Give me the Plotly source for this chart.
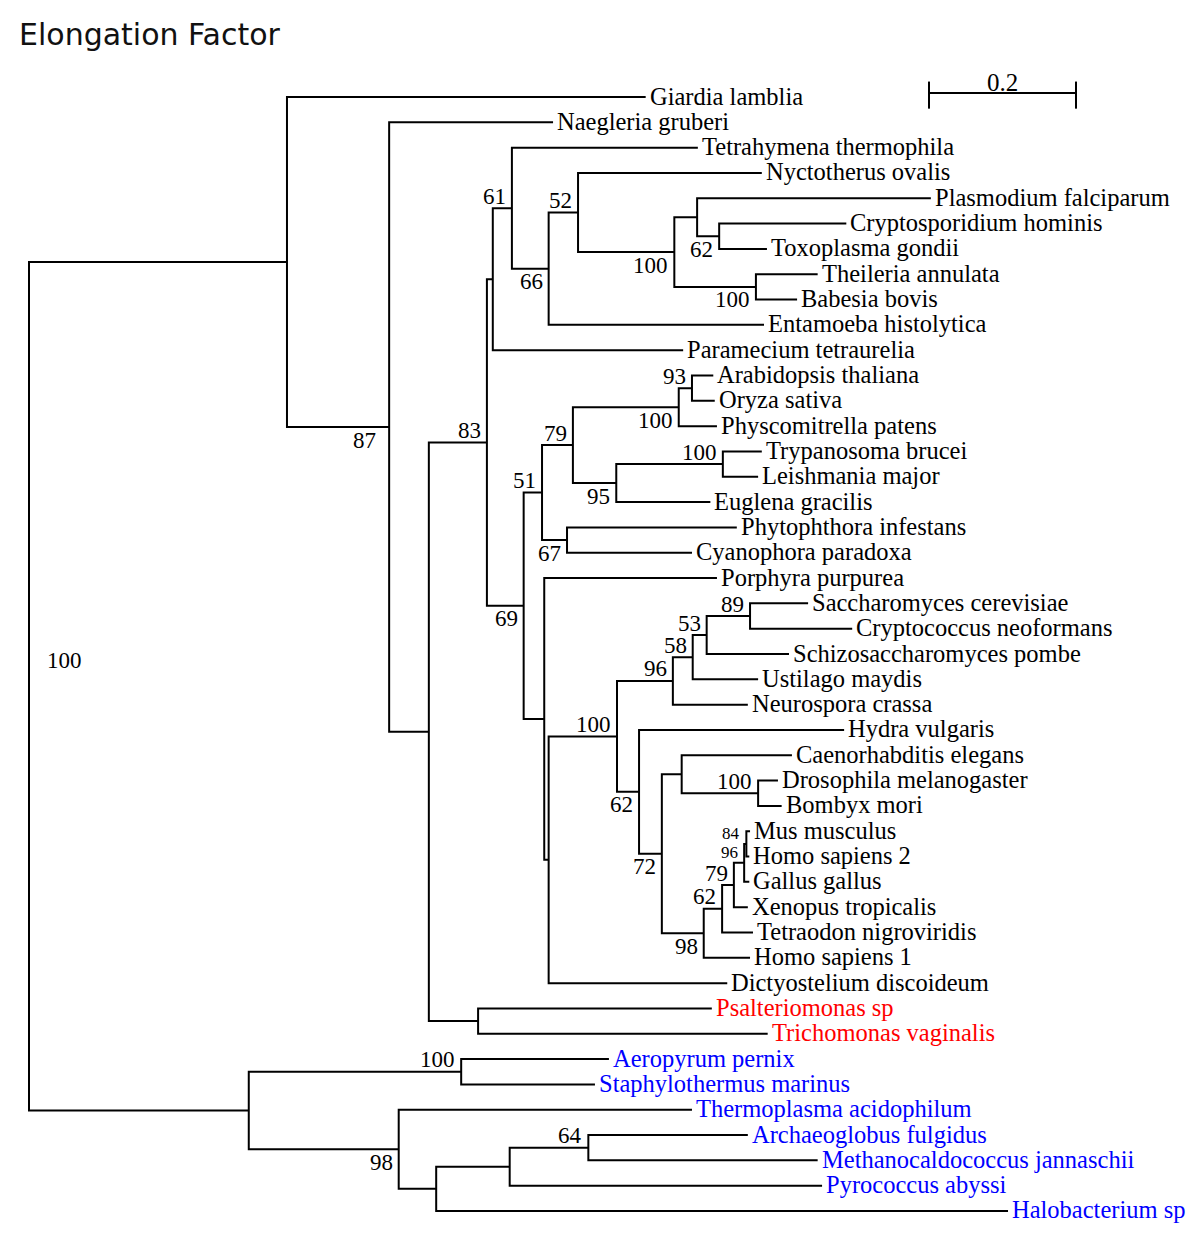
import plotly.graph_objects as go

# ---------------- data ----------------
leaf_names = [
    "Giardia lamblia", "Naegleria gruberi", "Tetrahymena thermophila", "Nyctotherus ovalis",
    "Plasmodium falciparum", "Cryptosporidium hominis", "Toxoplasma gondii", "Theileria annulata",
    "Babesia bovis", "Entamoeba histolytica", "Paramecium tetraurelia", "Arabidopsis thaliana",
    "Oryza sativa", "Physcomitrella patens", "Trypanosoma brucei", "Leishmania major",
    "Euglena gracilis", "Phytophthora infestans", "Cyanophora paradoxa", "Porphyra purpurea",
    "Saccharomyces cerevisiae", "Cryptococcus neoformans", "Schizosaccharomyces pombe",
    "Ustilago maydis", "Neurospora crassa", "Hydra vulgaris", "Caenorhabditis elegans",
    "Drosophila melanogaster", "Bombyx mori", "Mus musculus", "Homo sapiens 2", "Gallus gallus",
    "Xenopus tropicalis", "Tetraodon nigroviridis", "Homo sapiens 1", "Dictyostelium discoideum",
    "Psalteriomonas sp", "Trichomonas vaginalis", "Aeropyrum pernix", "Staphylothermus marinus",
    "Thermoplasma acidophilum", "Archaeoglobus fulgidus", "Methanocaldococcus jannaschii",
    "Pyrococcus abyssi", "Halobacterium sp",
]
# distance from root (substitutions per site)
leaf_depth = [
    0.839, 0.713, 0.910, 0.997, 1.227, 1.112, 1.004, 1.073, 1.045, 1.000,
    0.890, 0.931, 0.933, 0.936, 0.997, 0.992, 0.927, 0.963, 0.902, 0.936,
    1.060, 1.120, 1.034, 0.992, 0.978, 1.109, 1.038, 1.019, 1.024, 0.981,
    0.980, 0.980, 0.978, 0.985, 0.981, 0.950, 0.929, 1.005, 0.789, 0.770,
    0.902, 0.978, 1.073, 1.079, 1.332,
]
leaf_group = ["eukaryote"] * 36 + ["parabasalid"] * 2 + ["archaea"] * 7

node_ids = ["root", "A", "B", "C", "D", "E", "F", "G", "H", "I", "J", "K", "L",
            "N69", "N51", "N79a", "Npl", "N93", "N95", "Ntr", "N67", "Npo", "Ndi",
            "N100f", "N96f", "N58", "N53", "N89", "N62m", "N72", "Nce", "Ndr",
            "N98v", "N62v", "N79v", "N96v", "N84v", "Nps",
            "Nar", "Nae", "N98a", "Nha", "Npy", "N64"]
node_depth = [0.000, 0.351, 0.490, 0.544, 0.623, 0.631, 0.657, 0.707, 0.747, 0.878, 0.909, 0.939, 0.989,
              0.673, 0.698, 0.740, 0.884, 0.902, 0.799, 0.944, 0.732, 0.701, 0.707,
              0.800, 0.876, 0.903, 0.922, 0.981, 0.830, 0.861, 0.888, 0.992,
              0.918, 0.943, 0.959, 0.973, 0.976, 0.611,
              0.299, 0.588, 0.503, 0.554, 0.654, 0.761]
node_children = [
    ("A", "Nar"), ("Giardia lamblia", "B"), ("Naegleria gruberi", "C"), ("D", "Nps"),
    ("E", "N69"), ("F", "Paramecium tetraurelia"), ("Tetrahymena thermophila", "G"),
    ("H", "Entamoeba histolytica"), ("Nyctotherus ovalis", "I"), ("J", "L"),
    ("Plasmodium falciparum", "K"), ("Cryptosporidium hominis", "Toxoplasma gondii"),
    ("Theileria annulata", "Babesia bovis"),
    ("N51", "Npo"), ("N79a", "N67"), ("Npl", "N95"), ("N93", "Physcomitrella patens"),
    ("Arabidopsis thaliana", "Oryza sativa"), ("Ntr", "Euglena gracilis"),
    ("Trypanosoma brucei", "Leishmania major"), ("Phytophthora infestans", "Cyanophora paradoxa"),
    ("Porphyra purpurea", "Ndi"), ("N100f", "Dictyostelium discoideum"),
    ("N96f", "N62m"), ("N58", "Neurospora crassa"), ("N53", "Ustilago maydis"),
    ("N89", "Schizosaccharomyces pombe"), ("Saccharomyces cerevisiae", "Cryptococcus neoformans"),
    ("Hydra vulgaris", "N72"), ("Nce", "N98v"), ("Caenorhabditis elegans", "Ndr"),
    ("Drosophila melanogaster", "Bombyx mori"),
    ("N62v", "Homo sapiens 1"), ("N79v", "Tetraodon nigroviridis"), ("N96v", "Xenopus tropicalis"),
    ("N84v", "Gallus gallus"), ("Mus musculus", "Homo sapiens 2"),
    ("Psalteriomonas sp", "Trichomonas vaginalis"),
    ("Nae", "N98a"), ("Aeropyrum pernix", "Staphylothermus marinus"),
    ("Thermoplasma acidophilum", "Nha"), ("Npy", "Halobacterium sp"),
    ("N64", "Pyrococcus abyssi"), ("Archaeoglobus fulgidus", "Methanocaldococcus jannaschii"),
]
node_support = [100, None, 87, None, 83, None, 61, 66, 52, 100, None, 62, 100,
                69, 51, 79, 100, 93, 95, 100, 67, None, None,
                100, 96, 58, 53, 89, 62, 72, None, 100,
                98, 62, 79, 96, 84, None,
                None, 100, 98, None, None, 64]

scale_length = 0.2
scale_label = "0.2"
title_text = "Elongation Factor"

# ---------------- styles ----------------
support_side = {"B": "b", "D": "a", "F": "a", "G": "b", "H": "a", "I": "b", "K": "b", "L": "b",
                "N69": "b", "N51": "a", "N79a": "a", "Npl": "b", "N93": "a", "N95": "b",
                "Ntr": "a", "N67": "b", "N100f": "a", "N96f": "a", "N58": "a", "N53": "a",
                "N89": "a", "N62m": "b", "N72": "b", "Ndr": "a", "N98v": "b", "N62v": "a",
                "N79v": "a", "N96v": "a", "N84v": "a", "Nae": "a", "N98a": "b", "N64": "a"}
small_support = {"N96v", "N84v"}
group_color = {"eukaryote": "#000000", "parabasalid": "#ff0000", "archaea": "#0000ff"}
SERIF = "Liberation Serif, Times New Roman, serif"

# page offset (default body margin) and pixel scale
OFF = 8
W, H = 1200 - OFF, 1244 - OFF
PX_PER_UNIT = 735.0
ROOT_PX = 29
Y0_PX, DY_PX = 97, 25.318

# ---------------- layout computations ----------------
depth = {n: d for n, d in zip(leaf_names, leaf_depth)}
depth.update({n: d for n, d in zip(node_ids, node_depth)})
children = dict(zip(node_ids, node_children))
ypos = {n: i for i, n in enumerate(leaf_names)}


def get_y(n):
    if n not in ypos:
        a, b = children[n]
        ypos[n] = (get_y(a) + get_y(b)) / 2.0
    return ypos[n]


for n in node_ids:
    get_y(n)

bx, by = [], []
for n in node_ids:
    a, b = children[n]
    bx += [depth[a], depth[n], depth[n], depth[b], None]
    by += [ypos[a], ypos[a], ypos[b], ypos[b], None]

fig = go.Figure()
fig.add_trace(go.Scatter(x=bx, y=by, mode="lines", line=dict(color="black", width=2),
                         hoverinfo="skip", showlegend=False))

# scale bar
sx0 = 1.2245
sy = -0.16
fig.add_trace(go.Scatter(
    x=[sx0, sx0 + scale_length, None, sx0, sx0, None, sx0 + scale_length, sx0 + scale_length],
    y=[sy, sy, None, sy - 0.45, sy + 0.62, None, sy - 0.45, sy + 0.62],
    mode="lines", line=dict(color="black", width=2), hoverinfo="skip", showlegend=False))

annotations = []
for n, g in zip(leaf_names, leaf_group):
    annotations.append(dict(x=depth[n], y=ypos[n], text=n, showarrow=False, xanchor="left",
                            yanchor="middle", xshift=2, yshift=1,
                            font=dict(family=SERIF, size=24.5, color=group_color[g])))

for n, s in zip(node_ids, node_support):
    if s is None:
        continue
    if n == "root":
        annotations.append(dict(x=depth[n], y=ypos[n], text=str(s), showarrow=False,
                                xanchor="left", yanchor="middle", xshift=16, yshift=26,
                                font=dict(family=SERIF, size=23, color="black")))
        continue
    small = n in small_support
    side = support_side[n]
    ys = (10 if small else 12) if side == "a" else -13
    xs = -11 if n == "B" else -4
    annotations.append(dict(x=depth[n], y=ypos[n], text=str(s), showarrow=False,
                            xanchor="right", yanchor="middle", xshift=xs, yshift=ys,
                            font=dict(family=SERIF, size=17 if small else 23, color="black")))

annotations.append(dict(x=sx0 + scale_length / 2, y=sy, text=scale_label, showarrow=False,
                        xanchor="center", yanchor="middle", yshift=10,
                        font=dict(family=SERIF, size=25, color="black")))

annotations.append(dict(x=(17 - OFF) / W, y=1 - (34 - OFF) / H, xref="paper", yref="paper",
                        text=title_text, showarrow=False, xanchor="left", yanchor="middle",
                        font=dict(family="DejaVu Sans, sans-serif", size=30, color="#111111")))

fig.update_layout(
    width=W, height=H,
    margin=dict(l=0, r=0, t=0, b=0),
    paper_bgcolor="white", plot_bgcolor="white",
    xaxis=dict(range=[(OFF - ROOT_PX) / PX_PER_UNIT, (1200 - ROOT_PX) / PX_PER_UNIT],
               visible=False, fixedrange=True),
    yaxis=dict(range=[(1244 - Y0_PX) / DY_PX, (OFF - Y0_PX) / DY_PX],
               visible=False, fixedrange=True),
    annotations=annotations,
    showlegend=False,
)

fig.write_html("out.html")
